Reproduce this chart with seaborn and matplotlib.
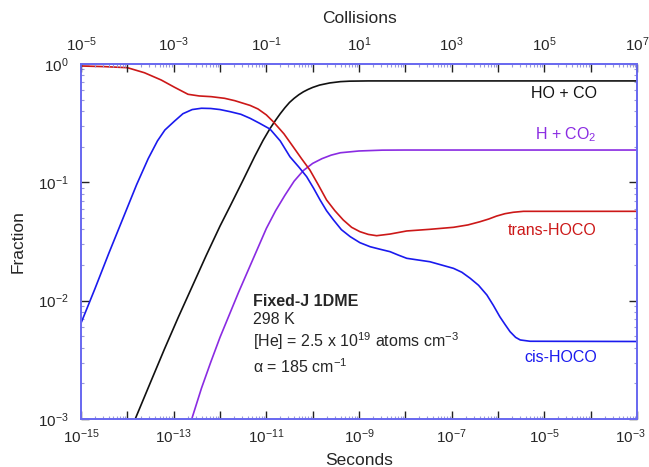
import numpy as np
import pandas as pd
import matplotlib
matplotlib.use("Agg")
import matplotlib.pyplot as plt
import matplotlib.ticker as mticker
import matplotlib.transforms as mtransforms
import seaborn as sns

# ---- data (log10 of seconds, log10 of fraction) ----
black_logt = [-13.83, -13.5, -13.2, -12.9, -12.6, -12.3, -12.0, -11.78, -11.5, -11.25, -11.07,
              -10.92, -10.8, -10.7, -10.6, -10.5, -10.4, -10.3, -10.2, -10.1, -10.0, -9.85,
              -9.63, -9.4, -9.2, -8.8, -3.0]
black_logf = [-3.0, -2.69, -2.41, -2.14, -1.88, -1.62, -1.37, -1.20, -0.98, -0.78, -0.645,
              -0.545, -0.475, -0.42, -0.37, -0.325, -0.29, -0.26, -0.235, -0.215, -0.198, -0.178,
              -0.16, -0.149, -0.145, -0.143, -0.143]

purple_logt = [-12.61, -12.4, -12.2, -12.0, -11.8, -11.6, -11.4, -11.2, -11.0, -10.8, -10.6,
               -10.4, -10.2, -10.0, -9.8, -9.6, -9.4, -9.0, -8.5, -8.0, -3.0]
purple_logf = [-3.0, -2.74, -2.52, -2.31, -2.12, -1.93, -1.75, -1.57, -1.39, -1.24, -1.11,
               -0.99, -0.90, -0.84, -0.80, -0.77, -0.75, -0.735, -0.728, -0.727, -0.727]

red_logt = [-15, -14.5, -14.0, -13.63, -13.27, -12.98, -12.69, -12.45, -12.19, -11.9, -11.68,
            -11.35, -11.18, -11.0, -10.85, -10.62, -10.42, -10.24, -10.06, -9.88, -9.70, -9.52,
            -9.34, -9.16, -8.98, -8.8, -8.62, -8.33, -7.97, -7.47, -6.96, -6.65, -6.39, -6.2,
            -6.03, -5.85, -5.67, -5.45, -3.0]
red_logf = [-0.017, -0.022, -0.031, -0.074, -0.135, -0.197, -0.256, -0.27, -0.276, -0.29, -0.31,
            -0.35, -0.38, -0.43, -0.488, -0.59, -0.70, -0.80, -0.896, -1.02, -1.149, -1.24,
            -1.318, -1.38, -1.417, -1.44, -1.451, -1.437, -1.411, -1.397, -1.38, -1.36, -1.333, -1.31,
            -1.285, -1.265, -1.253, -1.245, -1.245]

blue_logt = [-15, -14.7, -14.4, -14.1, -13.8, -13.55, -13.35, -13.19, -12.98, -12.8, -12.6, -12.4,
             -12.2, -12.0, -11.78, -11.55, -11.35, -11.15, -10.92, -10.7, -10.49, -10.3, -10.13,
             -9.98, -9.84, -9.7, -9.55, -9.38, -9.19, -8.98, -8.76, -8.55, -8.33, -8.15, -7.97,
             -7.47, -6.96, -6.78, -6.6, -6.42, -6.24, -6.1, -5.96, -5.85, -5.74, -5.62, -5.52,
             -5.31, -3.0]
blue_logf = [-2.19, -1.9, -1.6, -1.31, -1.02, -0.80, -0.65, -0.558, -0.482, -0.42, -0.385, -0.374,
             -0.376, -0.385, -0.403, -0.425, -0.459, -0.50, -0.55, -0.65, -0.784, -0.87, -0.952,
             -1.05, -1.149, -1.24, -1.318, -1.40, -1.459, -1.51, -1.544, -1.565, -1.586, -1.615, -1.642,
             -1.671, -1.727, -1.76, -1.811, -1.87, -1.952, -2.04, -2.136, -2.20, -2.262, -2.31, -2.332,
             -2.343, -2.345]

species = ["HO + CO", "H + CO$_2$", "trans-HOCO", "cis-HOCO"]
colors = {"HO + CO": "#111111", "H + CO$_2$": "#8a2be2",
          "trans-HOCO": "#cc1818", "cis-HOCO": "#1a1aee"}

collision_factor = 1e10  # collisions per second

frames = []
for name, lt, lf in [("HO + CO", black_logt, black_logf),
                     ("H + CO$_2$", purple_logt, purple_logf),
                     ("trans-HOCO", red_logt, red_logf),
                     ("cis-HOCO", blue_logt, blue_logf)]:
    frames.append(pd.DataFrame({"t": 10.0 ** np.array(lt), "f": 10.0 ** np.array(lf),
                                "species": name}))
df = pd.concat(frames, ignore_index=True)

# ---- style ----
sns.set_style("ticks")
plt.rcParams["font.family"] = ["Liberation Sans", "DejaVu Sans"]
plt.rcParams["mathtext.fontset"] = "custom"
plt.rcParams["mathtext.rm"] = "Liberation Sans"
plt.rcParams["mathtext.it"] = "Liberation Sans:italic"
plt.rcParams["mathtext.bf"] = "Liberation Sans:bold"

spine_col = "#6a6af0"

fig = plt.figure(figsize=(6.49, 4.67), dpi=100)
ax = fig.add_axes([81 / 649, 1 - 419 / 467, 556 / 649, 355 / 467])

sns.lineplot(data=df, x="t", y="f", hue="species", palette=colors, hue_order=species,
             sort=False, estimator=None, legend=False, linewidth=1.2, ax=ax)

ax.set_xscale("log")
ax.set_yscale("log")
ax.set_xlim(1e-15, 1e-3)
ax.set_ylim(1e-3, 1.0)


def odd_fmt(v, pos):
    e = int(np.round(np.log10(v)))
    return r"$10^{%d}$" % e if e % 2 != 0 else ""


def all_fmt(v, pos):
    e = int(np.round(np.log10(v)))
    return r"$10^{%d}$" % e


ax.xaxis.set_major_locator(mticker.LogLocator(base=10, numticks=30))
ax.xaxis.set_major_formatter(mticker.FuncFormatter(odd_fmt))
ax.xaxis.set_minor_locator(mticker.LogLocator(base=10, subs=np.arange(2, 10), numticks=30))
ax.xaxis.set_minor_formatter(mticker.NullFormatter())
ax.yaxis.set_major_locator(mticker.LogLocator(base=10, numticks=30))
ax.yaxis.set_major_formatter(mticker.FuncFormatter(all_fmt))
ax.yaxis.set_minor_locator(mticker.LogLocator(base=10, subs=np.arange(2, 10), numticks=30))
ax.yaxis.set_minor_formatter(mticker.NullFormatter())

ax.tick_params(which="major", direction="in", length=6, width=1.0, color="#222222",
               labelsize=11, top=False, right=True, bottom=True, left=True)
ax.tick_params(which="minor", direction="in", length=2.5, width=0.8, color="#9a9ad8",
               top=False, right=True, bottom=True, left=True)
ax.tick_params(axis="x", which="major", pad=6)
ax.tick_params(axis="y", which="major", pad=9)

for s in ax.spines.values():
    s.set_color(spine_col)
    s.set_linewidth(1.3)

ax.set_xlabel("Seconds", fontsize=12.5, labelpad=5)
ax.set_ylabel("Fraction", fontsize=12.5, labelpad=9)

# top axis: collisions
ax2 = ax.twiny()
ax2.set_xscale("log")
ax2.set_xlim(1e-15 * collision_factor, 1e-3 * collision_factor)
ax2.xaxis.set_major_locator(mticker.LogLocator(base=10, numticks=30))
ax2.xaxis.set_major_formatter(mticker.FuncFormatter(odd_fmt))
ax2.xaxis.set_minor_locator(mticker.LogLocator(base=10, subs=np.arange(2, 10), numticks=30))
ax2.xaxis.set_minor_formatter(mticker.NullFormatter())
ax2.tick_params(which="major", direction="in", length=6, width=1.0, color="#222222",
                labelsize=11, pad=7)
ax2.tick_params(which="minor", direction="in", length=2.5, width=0.8, color="#9a9ad8")
for s in ax2.spines.values():
    s.set_color(spine_col)
    s.set_linewidth(1.3)
ax2.set_xlabel("Collisions", fontsize=12.5, labelpad=9)

# ---- curve labels ----
lab_fs = 11.5
ax.text(0.9275, 0.904, "HO + CO", color=colors["HO + CO"], fontsize=lab_fs,
        ha="right", va="baseline", transform=ax.transAxes)
ax.text(0.9275, 0.787, "H + CO$_2$", color=colors["H + CO$_2$"], fontsize=lab_fs,
        ha="right", va="baseline", transform=ax.transAxes)
ax.text(0.9275, 0.518, "trans-HOCO", color=colors["trans-HOCO"], fontsize=lab_fs,
        ha="right", va="baseline", transform=ax.transAxes)
ax.text(0.9275, 0.161, "cis-HOCO", color=colors["cis-HOCO"], fontsize=lab_fs,
        ha="right", va="baseline", transform=ax.transAxes)

# ---- annotation block ----
ax.text(0.309, 0.318, "Fixed-J 1DME", fontsize=lab_fs, fontweight="bold",
        ha="left", va="baseline", transform=ax.transAxes)
ax.text(0.309, 0.267, "298 K", fontsize=lab_fs, ha="left", va="baseline", transform=ax.transAxes)
ax.text(0.309, 0.204, r"[He] = 2.5 x 10$^{19}$ atoms cm$^{-3}$", fontsize=lab_fs,
        ha="left", va="baseline", transform=ax.transAxes)
ax.text(0.309, 0.129, "\u03b1 = 185 cm$^{-1}$", fontsize=lab_fs,
        ha="left", va="baseline", transform=ax.transAxes)

# keep the right-most bottom tick label inside the figure
fig.canvas.draw()
xt = ax.xaxis.get_major_ticks()
locs = ax.xaxis.get_majorticklocs()
for tk, loc in zip(xt, locs):
    if np.isclose(np.log10(loc), -3):
        tk.label1.set_horizontalalignment("right")
        tk.label1.set_transform(tk.label1.get_transform() +
                                mtransforms.ScaledTranslation(9 / 100, 0, fig.dpi_scale_trans))

fig.savefig("out.png", dpi=100)
